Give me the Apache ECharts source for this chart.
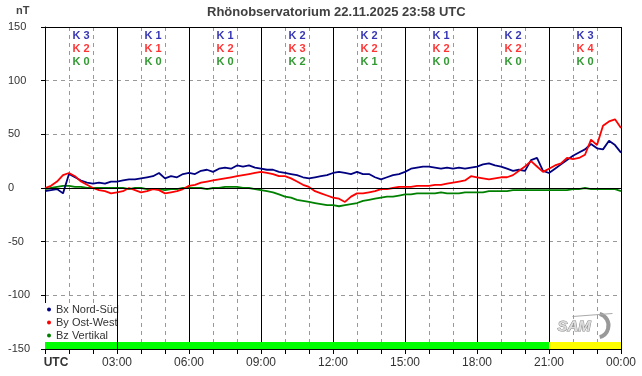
<!DOCTYPE html>
<html>
<head>
<meta charset="utf-8">
<script src="https://cdn.jsdelivr.net/npm/echarts@6/dist/echarts.min.js"></script>
<style>
html, body { margin: 0; padding: 0; background: #fff; }
#chart { width: 642px; height: 376px; }
</style>
</head>
<body>
<div id="chart"></div>
<script>
// 15-minute values, 00:00 .. 24:00 UTC (nT)
const bx = [
  -3, -2, -1, -5, 13, 10, 7, 5,
  4, 5, 4, 6, 6, 7, 8, 8,
  9, 10, 11, 14, 9, 11, 10, 13,
  14, 13, 16, 17, 15, 18, 19, 18,
  21, 20, 21, 19, 18, 17, 17, 15,
  14, 13, 12, 10, 9, 10, 11, 12,
  14, 15, 14, 13, 15, 13, 13, 10,
  8, 10, 12, 13, 15, 18, 19, 20,
  20, 19, 18, 19, 18, 19, 18, 19,
  20, 22, 23, 21, 20, 18, 16, 17,
  16, 26, 28, 16, 14, 18, 22, 26,
  30, 33, 36, 41, 37, 36, 44, 40,
  33
];
const by = [
  0, 2, 6, 12, 14, 11, 6, 3,
  0, -2, -3, -5, -4, -3, 0, -2,
  -4, -3, -1, -2, -5, -4, -3, -1,
  2, 3, 5, 6, 7, 8, 9, 10,
  11, 12, 13, 14, 15, 14, 13, 11,
  11, 9, 6, 3, 1, -3, -5, -7,
  -9, -10, -13, -8, -5, -5, -4, -3,
  -1, -1, 0, 1, 1, 1, 2, 2,
  2, 3, 3, 4, 5, 6, 7, 11,
  10, 9, 8, 9, 10, 10, 12, 16,
  20, 25, 20, 15, 18, 21, 23, 28,
  27, 28, 31, 45, 40, 58, 62, 64,
  56
];
const bz = [
  -1, 0, 1, 2, 2, 1, 1, 0,
  0, 0, 0, 0, 0, 0, -1, 0,
  0, -1, -1, -1, -2, -1, -1, 0,
  0, 0, 0, -1, 0, 0, 1, 1,
  1, 0, 0, -1, -2, -3, -4, -6,
  -8, -9, -11, -12, -13, -14, -15, -16,
  -16, -17, -16, -15, -14, -12, -11, -10,
  -9, -8, -8, -7, -6, -6, -5, -5,
  -5, -5, -4, -5, -5, -5, -4, -4,
  -4, -4, -3, -3, -3, -3, -2, -2,
  -2, -2, -2, -2, -2, -2, -2, -2,
  -1, -1, 0, -1, -1, -1, -1, -1,
  -3
];

// K indices per 3-hour block
const kBx = [3, 1, 1, 2, 2, 1, 2, 3];
const kBy = [2, 1, 2, 3, 2, 2, 2, 4];
const kBz = [0, 0, 0, 2, 1, 0, 0, 0];

// activity status bar (hours)
const statusStart = [0, 21];
const statusEnd = [21, 24];
const statusLevel = [0, 1];

const seriesNames = ['Bx Nord-Süd', 'By Ost-West', 'Bz Vertikal'];
const titleText = 'Rhönobservatorium 22.11.2025 23:58 UTC';

const FONT = '"Liberation Sans", Arial, sans-serif';
const statusColors = ['#00ff00', '#ffff00'];

function toPairs(arr) {
    return arr.map((v, i) => [i / 4, v]);
}

function kSeries(ks, yPos, color) {
    return {
        type: 'scatter',
        silent: true,
        symbolSize: 1,
        itemStyle: { color: 'rgba(0,0,0,0)' },
        data: ks.map((k, i) => [i * 3 + 1.5, yPos, 'K ' + k]),
        label: {
            show: true,
            position: 'inside',
            formatter: p => p.value[2],
            color: color,
            fontFamily: FONT,
            fontSize: 11,
            fontWeight: 'bold'
        },
        z: 5
    };
}

const chart = echarts.init(document.getElementById('chart'));

const option = {
    animation: false,
    backgroundColor: '#fff',
    title: {
        text: titleText,
        left: 202,
        top: 1,
        textStyle: { fontFamily: FONT, fontSize: 13, fontWeight: 'bold', color: '#404040' }
    },
    grid: { left: 45, right: 21, top: 27, bottom: 27 },
    legend: {
        orient: 'vertical',
        left: 44,
        top: 303,
        padding: [0, 0, 0, 3],
        backgroundColor: '#fff',
        z: 2,
        itemWidth: 4,
        itemHeight: 4,
        itemGap: 0,
        icon: 'circle',
        data: seriesNames,
        textStyle: { fontFamily: FONT, fontSize: 11, color: '#333', lineHeight: 13 }
    },
    xAxis: {
        type: 'value',
        min: 0,
        max: 24,
        interval: 3,
        axisLine: { show: true, onZero: false, lineStyle: { color: '#000' } },
        axisTick: { show: true, length: 5, lineStyle: { color: '#000' } },
        minorTick: { show: true, splitNumber: 3, length: 5, lineStyle: { color: '#000' } },
        splitLine: { show: true, lineStyle: { color: '#000', width: 1 } },
        minorSplitLine: { show: true, lineStyle: { color: '#999', type: [4, 4] } },
        axisLabel: {
            showMinLabel: true,
            showMaxLabel: true,
            margin: 8,
            fontFamily: FONT,
            fontSize: 12,
            color: '#333',
            formatter: v => {
                if (v === 0) return '{u|UTC}';
                const h = v % 24;
                return (h < 10 ? '0' : '') + h + ':00';
            },
            rich: {
                u: { fontFamily: FONT, fontSize: 12, fontWeight: 'bold', color: '#333', padding: [0, 0, 0, 22] }
            }
        }
    },
    yAxis: {
        type: 'value',
        min: -150,
        max: 150,
        interval: 50,
        axisLine: { show: true, lineStyle: { color: '#000' } },
        axisTick: { show: true, length: 4, lineStyle: { color: '#000' } },
        splitLine: { show: true, lineStyle: { color: '#999', type: [4, 4] } },
        axisLabel: { align: 'left', margin: 37, fontFamily: FONT, fontSize: 11, color: '#333' }
    },
    graphic: [
        { type: 'text', left: 16, top: 5, style: { text: 'nT', font: 'bold 11px ' + FONT, fill: '#444' } },
        {
            type: 'group', left: 557, top: 311, silent: true,
            children: [
                { type: 'arc', shape: { cx: 40, cy: 13, r: 12, startAngle: -1.3, endAngle: 1.3 }, style: { stroke: '#999', lineWidth: 4, fill: null } },
                { type: 'line', shape: { x1: 16, y1: 4, x2: 56, y2: 1 }, style: { stroke: '#aaa', lineWidth: 1 } },
                { type: 'text', x: 1, y: 7, style: { text: 'SAM', font: 'italic bold 15px ' + FONT, fill: '#ddd', stroke: '#888', lineWidth: 1 } }
            ]
        }
    ],
    series: [
        {
            name: seriesNames[2], type: 'line', data: toPairs(bz), showSymbol: false,
            color: '#008000', lineStyle: { width: 1.8 }, z: 3,
            markArea: {
                silent: true,
                data: statusStart.map((s, i) => [
                    { xAxis: s, yAxis: -150, itemStyle: { color: statusColors[statusLevel[i]] } },
                    { xAxis: statusEnd[i], yAxis: -143.5 }
                ])
            },
            markLine: {
                silent: true, symbol: 'none', label: { show: false },
                lineStyle: { color: '#000', type: 'solid', width: 1 },
                data: [{ yAxis: 0 }, { yAxis: 150 }, { xAxis: 3 }]
            }
        },
        { name: seriesNames[0], type: 'line', data: toPairs(bx), showSymbol: false, color: '#000080', lineStyle: { width: 1.8 }, z: 4 },
        { name: seriesNames[1], type: 'line', data: toPairs(by), showSymbol: false, color: '#ff0000', lineStyle: { width: 1.8 }, z: 4 },
        kSeries(kBx, 141.5, '#0000a0'),
        kSeries(kBy, 129.5, '#ff0000'),
        kSeries(kBz, 117.5, '#008000')
    ]
};

chart.setOption(option);
window.addEventListener('resize', () => chart.resize());
</script>
</body>
</html>
